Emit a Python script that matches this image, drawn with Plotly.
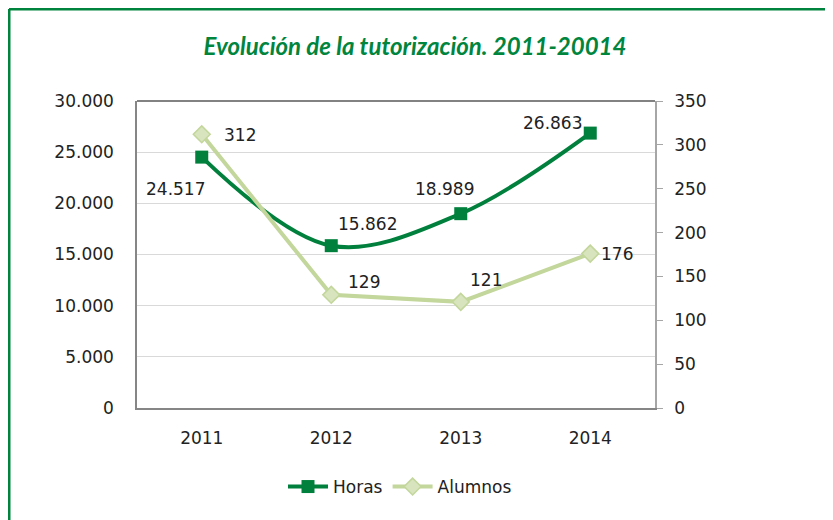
import plotly.graph_objects as go

years = ["2011", "2012", "2013", "2014"]
horas = [24517, 15862, 18989, 26863]
alumnos = [312, 129, 121, 176]
horas_labels = ["24.517", "15.862", "18.989", "26.863"]
alumnos_labels = ["312", "129", "121", "176"]

dark_green = "#00803C"
light_green = "#C3D69B"
font_fam = "DejaVu Sans"
fs = 17

fig = go.Figure()
fig.add_trace(go.Scatter(
    x=years, y=horas, name="Horas", mode="lines+markers",
    line=dict(color=dark_green, width=4, shape="spline", smoothing=1.0),
    marker=dict(symbol="square", size=13, color=dark_green),
    yaxis="y", cliponaxis=False))
fig.add_trace(go.Scatter(
    x=years, y=alumnos, name="Alumnos", mode="lines+markers",
    line=dict(color=light_green, width=4),
    marker=dict(symbol="diamond", size=13, color="#D7E4BD",
                line=dict(color=light_green, width=1.5)),
    yaxis="y2", cliponaxis=False))

# label offsets (pixels) relative to each point
h_shift = [(-26, -32), (36, 22), (-16, 25), (-38, 10)]
a_shift = [(38, -1), (33, 13), (25, 22), (27, 0)]
for i in range(len(years)):
    # category axis: annotations use the category index
    fig.add_annotation(x=i, y=horas[i], xref="x", yref="y", text=horas_labels[i],
                       showarrow=False, xshift=h_shift[i][0], yshift=h_shift[i][1],
                       font=dict(family=font_fam, size=fs, color="#222222"))
    fig.add_annotation(x=i, y=alumnos[i], xref="x", yref="y2", text=alumnos_labels[i],
                       showarrow=False, xshift=a_shift[i][0], yshift=a_shift[i][1],
                       font=dict(family=font_fam, size=fs, color="#222222"))

W, H = 825, 512
L, R, T, B = 129, 178, 93, 112
pw, ph = W - L - R, H - T - B
fx = (1 - L) / pw
fy = (ph + T - 1) / ph

# outer green frame (top and left edges) and dark top border of plot area
fig.add_shape(type="line", xref="paper", yref="paper", x0=fx, x1=1.5,
              y0=fy, y1=fy, line=dict(color="#00843D", width=3))
fig.add_shape(type="line", xref="paper", yref="paper", x0=fx, x1=fx,
              y0=fy, y1=-0.5, line=dict(color="#00843D", width=3))
fig.add_shape(type="line", xref="paper", yref="paper", x0=0, x1=1,
              y0=1, y1=1, line=dict(color="#595959", width=1.5))

fig.update_layout(
    width=W, height=H,
    margin=dict(l=L, r=R, t=T, b=B),
    paper_bgcolor="white", plot_bgcolor="white",
    separators=",.",
    font=dict(family=font_fam, size=fs, color="#222222"),
    title=dict(text="<b><i>Evolución de la tutorización. 2011-20014</i></b>",
               x=407 / W, xanchor="center", xref="container",
               y=1 - 39 / H, yanchor="middle", yref="container",
               font=dict(family="Lato", size=24, color="#00853E")),
    xaxis=dict(type="category", range=[-0.5, 3.5], showgrid=False,
               showline=True, linecolor="#868686", linewidth=1.5,
               ticks="", ticklabelstandoff=14,
               tickfont=dict(family=font_fam, size=fs, color="#222222")),
    yaxis=dict(range=[0, 30000], tickvals=[0, 5000, 10000, 15000, 20000, 25000, 30000],
               tickformat=",d", showgrid=True, gridcolor="#D9D9D9", gridwidth=1,
               showline=True, linecolor="#868686", linewidth=1.5, ticks="",
               ticklabelstandoff=18, zeroline=False,
               tickfont=dict(family=font_fam, size=fs, color="#222222")),
    yaxis2=dict(range=[0, 350], tickvals=[0, 50, 100, 150, 200, 250, 300, 350],
                overlaying="y", side="right", showgrid=False,
                showline=True, linecolor="#A6A6A6", linewidth=1.5,
                ticks="outside", ticklen=6, tickcolor="#A6A6A6",
                ticklabelstandoff=8, zeroline=False,
                tickfont=dict(family=font_fam, size=fs, color="#222222")),
    showlegend=True,
    legend=dict(orientation="h", x=(400 - 8 - L) / pw, xanchor="center",
                y=(400 - 479) / ph, yanchor="middle",
                font=dict(family=font_fam, size=fs, color="#222222"),
                itemwidth=40, tracegroupgap=0),
)

fig.write_html("out.html")
